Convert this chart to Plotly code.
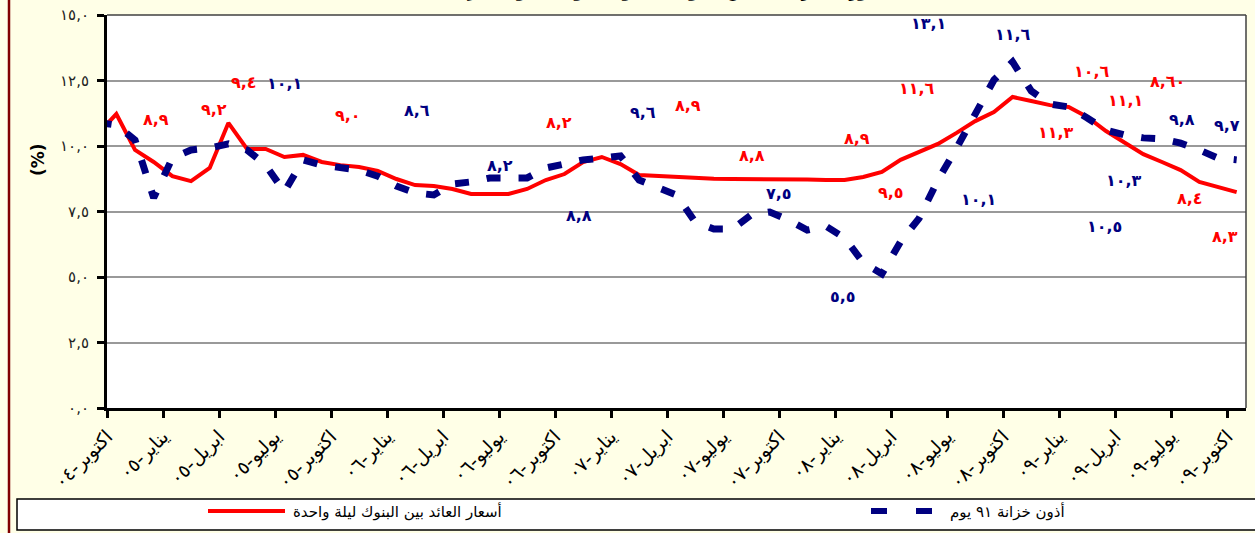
import plotly.graph_objects as go

# ---------------- data ----------------
# monthly index: -1 = Sep-2004 (clipped), 0 = Oct-2004 ... 60 = Oct-2009
month_index = list(range(-1, 61))

interbank_overnight = [
    10.46, 11.22, 9.85, 9.39, 8.85, 8.66, 9.16, 10.88, 9.89, 9.89, 9.58, 9.66,
    9.39, 9.27, 9.20, 9.05, 8.74, 8.51, 8.47, 8.36, 8.17, 8.17, 8.17, 8.36,
    8.70, 8.93, 9.39, 9.58, 9.31, 8.89, 8.85, 8.82, 8.76, 8.75, 8.74, 8.74,
    8.74, 8.74, 8.72, 8.70, 8.70, 8.82, 9.01, 9.47, 9.77, 10.08, 10.50, 10.95,
    11.30, 11.87, 11.72, 11.56, 11.49, 11.11, 10.57, 10.11, 9.69, 9.39, 9.08,
    8.63, 8.44, 8.24]

tbills_91 = [
    10.90, 10.80, 10.23, 8.02, 9.54, 9.85, 9.92, 10.08, 9.85, 9.27, 8.25, 9.47,
    9.27, 9.16, 9.08, 8.85, 8.47, 8.21, 8.13, 8.55, 8.63, 8.78, 8.78, 8.78,
    9.16, 9.31, 9.47, 9.54, 9.62, 8.70, 8.40, 8.13, 7.10, 6.83, 6.83, 7.37,
    7.48, 7.18, 6.79, 6.94, 6.49, 5.55, 5.12, 6.35, 7.25, 8.70, 9.92, 11.18,
    12.52, 13.21, 12.10, 11.60, 11.49, 11.07, 10.61, 10.42, 10.31, 10.27, 10.11,
    9.85, 9.54, 9.47]

x_tick_labels = ["اكتوبر-٠٤", "يناير-٠٥", "ابريل-٠٥", "يوليو-٠٥", "اكتوبر-٠٥",
                 "يناير-٠٦", "ابريل-٠٦", "يوليو-٠٦", "اكتوبر-٠٦", "يناير-٠٧",
                 "ابريل-٠٧", "يوليو-٠٧", "اكتوبر-٠٧", "يناير-٠٨", "ابريل-٠٨",
                 "يوليو-٠٨", "اكتوبر-٠٨", "يناير-٠٩", "ابريل-٠٩", "يوليو-٠٩",
                 "اكتوبر-٠٩"]
y_tick_values = [0, 2.5, 5, 7.5, 10, 12.5, 15]
y_tick_labels = ["٠,٠", "٢,٥", "٥,٠", "٧,٥", "١٠,٠", "١٢,٥", "١٥,٠"]

series_names = ["أسعار العائد بين البنوك ليلة واحدة", "أذون خزانة ٩١ يوم"]

# stray data labels (text, month position, value position)
red_label_text = ["٨,٩", "٩,٢", "٩,٤", "٩,٠", "٨,٢", "٨,٩", "٨,٨", "٨,٩",
                  "١١,٦", "٩,٥", "١٠,٦", "١١,٣", "١١,١", "٨,٦٠", "٨,٤", "٨,٣"]
red_label_x = [2.12, 5.23, 6.84, 12.41, 23.71, 30.62, 34.04, 39.67,
               42.88, 41.49, 52.25, 50.33, 54.02, 56.32, 57.5, 59.38]
red_label_y = [11.03, 11.41, 12.44, 11.15, 10.88, 11.56, 9.62, 10.27,
               12.18, 8.21, 12.86, 10.53, 11.72, 12.48, 7.98, 6.56]

blue_label_text = ["١٠,١", "٨,٦", "٨,٢", "٩,٦", "٧,٥", "٨,٨", "٥,٥", "١٣,١",
                   "١١,٦", "١٠,١", "١٠,٣", "١٠,٥", "٩,٨", "٩,٧"]
blue_label_x = [9.03, 16.10, 20.55, 28.21, 35.49, 24.78, 38.92, 43.47,
                48.02, 46.15, 53.97, 52.90, 57.07, 59.48]
blue_label_y = [12.37, 11.37, 9.27, 11.26, 8.17, 7.33, 4.27, 14.66,
                14.27, 7.94, 8.70, 6.91, 11.03, 10.80]

title_text = "تطور أسعار العائد بين البنوك لليلة واحدة وعائد أذون الخزانة (%)"

# ---------------- layout geometry ----------------
W, H = 1255, 533
PL, PR, PT, PB = 107, 1246, 15, 408
RED = "#FF0000"
NAVY = "#000080"
CREAM = "#FFFFE7"
FONT = "DejaVu Sans"


def pxx(p):
    return (p - PL) / (PR - PL)


def pxy(p):
    return (PB - p) / (PB - PT)


fig = go.Figure()
fig.add_trace(go.Scatter(x=month_index, y=interbank_overnight, mode="lines",
                         name=series_names[0], showlegend=False,
                         line=dict(color=RED, width=4)))
fig.add_trace(go.Scatter(x=month_index, y=tbills_91, mode="lines",
                         name=series_names[1], showlegend=False,
                         line=dict(color=NAVY, width=7, dash="14px,18px")))

annotations = []
for t, x, y in zip(red_label_text, red_label_x, red_label_y):
    annotations.append(dict(x=x, y=y, xref="x", yref="y", text=t, showarrow=False,
                            xanchor="center", yanchor="middle",
                            font=dict(family=FONT, size=16, color=RED, weight="bold")))
for t, x, y in zip(blue_label_text, blue_label_x, blue_label_y):
    annotations.append(dict(x=x, y=y, xref="x", yref="y", text=t, showarrow=False,
                            xanchor="center", yanchor="middle",
                            font=dict(family=FONT, size=16, color=NAVY, weight="bold")))

# y axis title
annotations.append(dict(x=pxx(38), y=pxy(160), xref="paper", yref="paper", text="(%)",
                        showarrow=False, textangle=-90, xanchor="center", yanchor="middle",
                        font=dict(family=FONT, size=17, color="black", weight="bold")))
# title (mostly cut off at the top of the frame, as in the source)
annotations.append(dict(x=pxx(685), y=pxy(3), xref="paper", yref="paper", text=title_text,
                        showarrow=False, xanchor="center", yanchor="bottom",
                        font=dict(family=FONT, size=15, color="black", weight="bold")))
# legend texts
annotations.append(dict(x=pxx(291), y=pxy(512), xref="paper", yref="paper",
                        text=series_names[0], showarrow=False, xanchor="left", yanchor="middle",
                        font=dict(family=FONT, size=15, color="black")))
annotations.append(dict(x=pxx(948), y=pxy(512), xref="paper", yref="paper",
                        text=series_names[1], showarrow=False, xanchor="left", yanchor="middle",
                        font=dict(family=FONT, size=15, color="black")))

shapes = [
    # left dark red frame line
    dict(type="line", xref="paper", yref="paper", x0=pxx(9), x1=pxx(9), y0=pxy(-5), y1=pxy(540),
         line=dict(color="#800000", width=2.5)),
    # plot area top / right border
    dict(type="line", xref="paper", yref="paper", x0=0, x1=1, y0=1, y1=1,
         line=dict(color="#404040", width=1.5)),
    dict(type="line", xref="paper", yref="paper", x0=1, x1=1, y0=0, y1=1,
         line=dict(color="#404040", width=1.5)),
    # legend box
    dict(type="rect", xref="paper", yref="paper", x0=pxx(17), x1=pxx(1262), y0=pxy(499), y1=pxy(530),
         fillcolor="white", line=dict(color="black", width=1.5), layer="below"),
    # legend samples
    dict(type="line", xref="paper", yref="paper", x0=pxx(208), x1=pxx(285), y0=pxy(511), y1=pxy(511),
         line=dict(color=RED, width=4)),
    dict(type="line", xref="paper", yref="paper", x0=pxx(871), x1=pxx(933), y0=pxy(511), y1=pxy(511),
         line=dict(color=NAVY, width=6, dash="16px,29px")),
]

fig.update_layout(
    width=W, height=H, autosize=False,
    margin=dict(l=PL, r=W - PR, t=PT, b=H - PB, pad=0),
    paper_bgcolor=CREAM, plot_bgcolor="white",
    showlegend=False,
    annotations=annotations, shapes=shapes,
    font=dict(family=FONT, color="black"),
)
fig.update_xaxes(
    range=[-0.5, 60.5], tickmode="array", automargin=False,
    tickvals=[-0.5 + 3 * k for k in range(len(x_tick_labels))], ticktext=x_tick_labels,
    tickangle=-45, tickfont=dict(family=FONT, size=19, color="black"),
    ticks="outside", ticklen=7, tickwidth=3, tickcolor="black",
    showline=True, linecolor="black", linewidth=3,
    showgrid=False, zeroline=False,
)
fig.update_yaxes(
    range=[0, 15], tickmode="array", tickvals=y_tick_values, ticktext=y_tick_labels,
    automargin=False, ticklabelstandoff=5,
    tickfont=dict(family=FONT, size=15, color="#222222"),
    ticks="outside", ticklen=7, tickwidth=3, tickcolor="black",
    showline=True, linecolor="black", linewidth=3,
    showgrid=True, gridcolor="#999999", gridwidth=2, zeroline=False,
)

fig.write_html("out.html", config={"displayModeBar": False},
               post_script="document.body.style.margin='0px';document.body.style.overflow='hidden';")
